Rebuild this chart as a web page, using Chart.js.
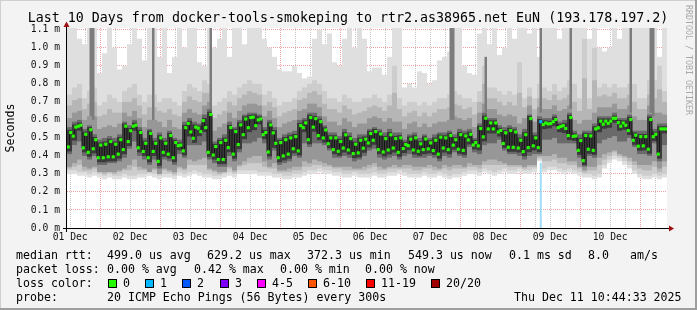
<!DOCTYPE html>
<html><head><meta charset="utf-8">
<script src="https://cdn.jsdelivr.net/npm/chart.js@4/dist/chart.umd.min.js"></script>
<style>html,body{margin:0;padding:0;background:#f3f3f3;}canvas{display:block}</style>
</head><body>
<canvas id="c" width="697" height="310"></canvas>
<script>
// ---------------- DATA ----------------
const titleText = "Last 10 Days from docker-tools-smokeping to rtr2.as38965.net EuN (193.178.197.2)";
const dayLabels = ["01 Dec","02 Dec","03 Dec","04 Dec","05 Dec","06 Dec","07 Dec","08 Dec","09 Dec","10 Dec"];
const yTickValues = [0,0.1,0.2,0.3,0.4,0.5,0.6,0.7,0.8,0.9,1.0,1.1];
const firstNoonHour = 1.2575;   // 01 Dec 12:00, hours after window start (01 Dec 10:44:33)
// median rtt in ms, one value per hour (240 h)
const median = [
0.45,0.53,0.51,0.56,0.565,0.57,0.445,0.52,0.42,0.545,0.44,0.49,0.39,0.46,0.39,0.465,0.395,0.48,0.395,0.465,
0.41,0.49,0.435,0.565,0.48,0.54,0.565,0.57,0.445,0.53,0.425,0.47,0.39,0.525,0.425,0.47,0.37,0.50,0.42,0.47,
0.41,0.513,0.39,0.474,0.457,0.46,0.428,0.557,0.58,0.533,0.498,0.56,0.554,0.535,0.596,0.557,0.42,0.63,0.405,0.452,
0.38,0.474,0.38,0.487,0.446,0.557,0.41,0.535,0.463,0.572,0.518,0.605,0.557,0.613,0.615,0.568,0.60,0.605,0.518,0.53,
0.422,0.572,0.528,0.47,0.39,0.474,0.40,0.49,0.41,0.50,0.44,0.507,0.428,0.568,0.557,0.583,0.49,0.613,0.56,0.607,
0.513,0.59,0.50,0.544,0.468,0.50,0.435,0.50,0.426,0.48,0.444,0.517,0.433,0.496,0.413,0.465,0.417,0.487,0.443,0.493,
0.472,0.524,0.487,0.535,0.435,0.522,0.422,0.496,0.433,0.517,0.444,0.496,0.42,0.50,0.441,0.463,0.457,0.493,0.433,0.50,
0.426,0.467,0.435,0.494,0.439,0.472,0.43,0.487,0.41,0.504,0.444,0.50,0.435,0.513,0.46,0.49,0.437,0.518,0.431,0.511,
0.489,0.52,0.461,0.474,0.456,0.552,0.506,0.609,0.55,0.583,0.55,0.583,0.533,0.541,0.469,0.528,0.448,0.541,0.448,0.533,
0.444,0.487,0.424,0.518,0.446,0.607,0.456,0.50,0.446,0.59,0.574,0.583,0.578,0.58,0.59,0.602,0.557,0.563,0.568,0.552,
0.513,0.613,0.509,0.511,0.431,0.485,0.374,0.513,0.437,0.511,0.431,0.55,0.556,0.593,0.576,0.593,0.581,0.593,0.609,0.609,
0.585,0.565,0.583,0.57,0.541,0.602,0.487,0.515,0.454,0.507,0.456,0.507,0.437,0.602,0.507,0.52,0.41,0.55,0.55,0.55];
const lossHour = 189;          // hour with 1/20 packet loss
const lossMarkTop = 0.363;
// single-hour outlier pings reaching far up (hour index, low, high)
const spikeHours = [9, 10, 34, 57, 153, 154, 167, 189, 201, 225, 233, 234];
const spikeLow  = [0.62, 0.60, 0.60, 0.66, 0.60, 0.60, 0.64, 0.64, 0.66, 0.64, 0.64, 0.62];
const spikeHigh = [1.11, 1.11, 1.11, 1.11, 1.11, 1.11, 0.95, 1.11, 1.11, 1.11, 1.11, 1.11];
// smoke, one column per 2 h (120 columns); band 1 = outermost (lightest) ... band 6 = core
const smoke1Low = [
0.30,0.30,0.29,0.29,0.28,0.29,0.28,0.27,0.28,0.27,0.27,0.28,0.27,0.27,0.28,0.28,0.29,0.28,0.27,0.28,
0.28,0.27,0.29,0.28,0.29,0.30,0.29,0.28,0.28,0.27,0.27,0.28,0.29,0.28,0.30,0.30,0.30,0.30,0.29,0.29,
0.29,0.28,0.28,0.27,0.27,0.28,0.28,0.29,0.30,0.30,0.31,0.30,0.30,0.29,0.29,0.28,0.28,0.29,0.28,0.28,
0.28,0.29,0.28,0.28,0.29,0.29,0.30,0.29,0.28,0.28,0.28,0.29,0.28,0.28,0.29,0.28,0.27,0.28,0.28,0.29,
0.30,0.30,0.29,0.31,0.30,0.29,0.30,0.31,0.30,0.30,0.31,0.30,0.30,0.31,0.37,0.31,0.32,0.32,0.31,0.30,
0.31,0.30,0.29,0.28,0.28,0.27,0.28,0.33,0.36,0.38,0.37,0.35,0.33,0.30,0.28,0.27,0.27,0.28,0.27,0.28];
const smoke1High = [
1.11,1.11,1.05,1.02,1.11,1.11,0.86,0.97,1.11,1.0,0.88,0.9,1.02,1.11,1.05,0.93,1.11,1.11,0.95,1.11,
0.86,0.95,1.11,1.0,1.11,1.11,0.92,0.9,1.11,1.0,1.05,1.11,0.95,1.11,1.11,1.02,1.11,1.11,1.11,1.05,
1.0,0.95,0.88,0.87,0.87,0.9,0.86,0.83,0.84,1.05,1.1,1.02,1.08,0.92,0.9,1.05,1.11,1.0,1.11,1.05,
0.87,0.89,0.89,0.85,0.95,1.11,1.11,0.78,0.8,0.78,0.87,0.86,0.8,0.82,0.93,0.95,0.98,1.11,1.11,0.9,
0.86,0.85,1.08,1.11,1.02,1.11,0.96,1.0,1.11,1.05,1.11,1.11,1.08,1.11,0.95,1.11,1.11,1.11,1.05,1.11,
1.11,1.11,1.11,1.11,1.05,1.11,1.0,0.98,1.0,1.11,1.05,1.11,1.11,1.11,1.11,1.11,1.11,1.11,0.95,1.11];
const smoke2Low = [
0.32,0.32,0.31,0.31,0.30,0.31,0.30,0.29,0.30,0.29,0.29,0.30,0.29,0.29,0.30,0.30,0.31,0.30,0.29,0.30,
0.30,0.29,0.31,0.30,0.31,0.32,0.31,0.30,0.30,0.29,0.29,0.30,0.31,0.30,0.32,0.32,0.32,0.32,0.31,0.31,
0.31,0.30,0.30,0.29,0.29,0.30,0.30,0.31,0.32,0.32,0.33,0.32,0.32,0.31,0.31,0.30,0.30,0.31,0.30,0.30,
0.30,0.31,0.30,0.30,0.31,0.31,0.32,0.31,0.30,0.30,0.30,0.31,0.30,0.30,0.31,0.30,0.29,0.30,0.30,0.31,
0.32,0.32,0.31,0.33,0.32,0.31,0.32,0.33,0.32,0.32,0.33,0.32,0.32,0.33,0.38,0.33,0.34,0.34,0.33,0.32,
0.33,0.32,0.31,0.30,0.30,0.29,0.30,0.35,0.38,0.40,0.39,0.37,0.35,0.32,0.30,0.29,0.29,0.30,0.29,0.30];
const smoke2High = [
0.74,0.78,0.80,0.72,0.76,0.78,0.68,0.70,0.74,0.72,0.70,0.76,0.78,0.80,0.74,0.70,0.74,0.74,0.70,0.72,
0.72,0.70,0.68,0.76,0.80,0.78,0.76,0.82,0.80,0.68,0.70,0.72,0.76,0.74,0.78,0.80,0.82,0.80,0.80,0.74,
0.76,0.72,0.68,0.70,0.70,0.72,0.76,0.78,0.80,0.82,0.80,0.76,0.72,0.72,0.70,0.74,0.72,0.70,0.70,0.72,
0.72,0.74,0.72,0.70,0.74,0.90,0.72,0.68,0.70,0.70,0.68,0.70,0.68,0.70,0.72,0.72,0.74,0.76,0.74,0.72,
0.72,0.70,0.76,0.90,0.78,0.78,0.76,0.74,0.76,0.74,0.92,0.72,0.78,0.72,0.80,0.78,0.76,0.80,0.76,0.78,
0.82,0.80,0.72,1.05,0.72,1.0,0.78,0.80,0.78,0.80,0.78,0.78,0.80,0.80,0.72,0.72,0.82,0.82,0.90,0.76];
const smoke3Low = [
0.33,0.34,0.35,0.32,0.32,0.33,0.31,0.30,0.31,0.30,0.31,0.32,0.32,0.34,0.32,0.32,0.31,0.32,0.30,0.32,
0.31,0.30,0.33,0.32,0.35,0.35,0.35,0.35,0.32,0.31,0.30,0.31,0.33,0.31,0.34,0.35,0.36,0.36,0.36,0.34,
0.33,0.33,0.31,0.31,0.31,0.32,0.32,0.34,0.34,0.35,0.35,0.34,0.34,0.33,0.33,0.32,0.32,0.32,0.32,0.32,
0.33,0.34,0.32,0.32,0.33,0.33,0.33,0.33,0.33,0.32,0.32,0.33,0.33,0.32,0.32,0.33,0.32,0.33,0.33,0.33,
0.34,0.34,0.33,0.35,0.35,0.35,0.35,0.35,0.34,0.34,0.34,0.33,0.34,0.34,0.39,0.37,0.37,0.38,0.36,0.36,
0.35,0.35,0.33,0.31,0.32,0.32,0.35,0.38,0.40,0.42,0.40,0.39,0.37,0.35,0.33,0.32,0.32,0.34,0.31,0.34];
const smoke3High = [
0.68,0.71,0.72,0.66,0.69,0.70,0.62,0.63,0.66,0.64,0.64,0.70,0.70,0.72,0.68,0.63,0.67,0.67,0.65,0.64,
0.66,0.63,0.62,0.70,0.73,0.71,0.70,0.75,0.75,0.61,0.63,0.65,0.70,0.68,0.72,0.74,0.76,0.75,0.74,0.68,
0.70,0.67,0.62,0.64,0.65,0.66,0.71,0.72,0.75,0.76,0.74,0.69,0.66,0.66,0.64,0.68,0.66,0.63,0.64,0.65,
0.67,0.68,0.67,0.65,0.68,0.75,0.66,0.62,0.64,0.65,0.62,0.64,0.62,0.64,0.66,0.66,0.67,0.69,0.68,0.66,
0.67,0.63,0.70,0.80,0.72,0.72,0.70,0.68,0.70,0.68,0.75,0.67,0.73,0.66,0.72,0.72,0.71,0.74,0.71,0.72,
0.74,0.70,0.65,0.83,0.66,0.82,0.73,0.74,0.73,0.75,0.72,0.72,0.74,0.70,0.66,0.66,0.74,0.72,0.77,0.70];
const smoke4Low = [
0.34,0.36,0.38,0.34,0.33,0.34,0.31,0.31,0.31,0.31,0.32,0.33,0.35,0.38,0.34,0.33,0.31,0.33,0.30,0.33,
0.32,0.31,0.34,0.33,0.38,0.37,0.38,0.39,0.33,0.32,0.31,0.31,0.34,0.32,0.35,0.37,0.39,0.40,0.40,0.37,
0.34,0.36,0.32,0.32,0.33,0.34,0.34,0.37,0.36,0.38,0.37,0.36,0.35,0.34,0.34,0.34,0.34,0.33,0.33,0.34,
0.35,0.36,0.34,0.33,0.34,0.35,0.34,0.35,0.35,0.34,0.34,0.34,0.35,0.34,0.33,0.35,0.34,0.35,0.35,0.34,
0.36,0.35,0.35,0.37,0.38,0.38,0.37,0.36,0.35,0.35,0.35,0.34,0.35,0.35,0.40,0.40,0.40,0.41,0.39,0.39,
0.37,0.37,0.34,0.32,0.34,0.34,0.39,0.41,0.42,0.43,0.41,0.40,0.39,0.37,0.35,0.35,0.35,0.37,0.33,0.37];
const smoke4High = [
0.61,0.64,0.65,0.60,0.62,0.62,0.55,0.56,0.57,0.56,0.58,0.64,0.62,0.65,0.61,0.56,0.60,0.60,0.59,0.56,
0.60,0.56,0.55,0.64,0.66,0.64,0.63,0.68,0.70,0.54,0.56,0.58,0.64,0.61,0.65,0.68,0.69,0.69,0.68,0.62,
0.65,0.61,0.56,0.58,0.59,0.60,0.65,0.66,0.69,0.69,0.67,0.62,0.59,0.59,0.57,0.61,0.59,0.56,0.58,0.58,
0.61,0.62,0.61,0.59,0.61,0.59,0.59,0.55,0.58,0.59,0.56,0.58,0.56,0.58,0.59,0.59,0.60,0.62,0.61,0.60,
0.61,0.56,0.64,0.69,0.66,0.66,0.63,0.62,0.63,0.62,0.58,0.61,0.68,0.59,0.67,0.66,0.66,0.68,0.65,0.66,
0.68,0.60,0.58,0.60,0.60,0.64,0.67,0.67,0.67,0.69,0.66,0.66,0.68,0.62,0.60,0.60,0.68,0.64,0.64,0.63];
const smoke5Low = [
0.41,0.46,0.48,0.40,0.38,0.40,0.35,0.35,0.36,0.36,0.37,0.39,0.44,0.48,0.40,0.38,0.35,0.38,0.33,0.38,
0.37,0.35,0.41,0.39,0.46,0.46,0.46,0.48,0.38,0.36,0.34,0.34,0.40,0.37,0.42,0.47,0.47,0.48,0.50,0.47,
0.38,0.43,0.35,0.36,0.37,0.40,0.39,0.47,0.45,0.47,0.47,0.46,0.43,0.39,0.39,0.40,0.39,0.37,0.38,0.40,
0.43,0.44,0.39,0.38,0.39,0.40,0.38,0.40,0.41,0.39,0.39,0.39,0.40,0.39,0.37,0.40,0.39,0.42,0.40,0.39,
0.45,0.42,0.41,0.46,0.47,0.47,0.49,0.43,0.41,0.41,0.40,0.38,0.40,0.41,0.41,0.49,0.49,0.50,0.47,0.47,
0.47,0.47,0.39,0.34,0.40,0.39,0.47,0.49,0.50,0.51,0.48,0.48,0.50,0.45,0.41,0.41,0.40,0.47,0.37,0.46];
const smoke5High = [
0.56,0.59,0.60,0.55,0.57,0.52,0.49,0.50,0.51,0.50,0.52,0.59,0.57,0.60,0.56,0.50,0.55,0.50,0.53,0.50,
0.54,0.50,0.49,0.59,0.61,0.59,0.58,0.63,0.66,0.48,0.50,0.52,0.59,0.56,0.60,0.63,0.64,0.64,0.63,0.56,
0.60,0.56,0.50,0.52,0.53,0.54,0.60,0.61,0.64,0.64,0.62,0.57,0.53,0.53,0.51,0.55,0.53,0.50,0.52,0.52,
0.55,0.56,0.55,0.53,0.55,0.53,0.53,0.49,0.52,0.53,0.50,0.52,0.50,0.52,0.53,0.53,0.54,0.52,0.55,0.54,
0.55,0.50,0.58,0.64,0.61,0.61,0.57,0.56,0.57,0.56,0.52,0.55,0.63,0.53,0.62,0.61,0.61,0.63,0.59,0.60,
0.64,0.54,0.52,0.54,0.54,0.58,0.62,0.62,0.62,0.64,0.61,0.61,0.63,0.54,0.54,0.54,0.63,0.55,0.58,0.58];
const smoke6Low = [
0.425,0.485,0.54,0.42,0.395,0.415,0.365,0.365,0.37,0.37,0.385,0.41,0.455,0.54,0.42,0.40,0.365,0.40,0.345,0.395,
0.385,0.365,0.432,0.403,0.508,0.473,0.51,0.532,0.395,0.38,0.355,0.355,0.421,0.385,0.438,0.493,0.532,0.543,0.575,0.493,
0.397,0.445,0.365,0.375,0.385,0.415,0.403,0.532,0.465,0.535,0.488,0.475,0.443,0.41,0.401,0.419,0.408,0.388,0.392,0.418,
0.447,0.462,0.41,0.397,0.408,0.419,0.395,0.416,0.432,0.408,0.401,0.41,0.414,0.405,0.385,0.419,0.41,0.435,0.412,0.406,
0.464,0.436,0.431,0.481,0.525,0.525,0.508,0.444,0.423,0.423,0.419,0.399,0.421,0.431,0.421,0.549,0.553,0.565,0.532,0.527,
0.488,0.484,0.406,0.349,0.412,0.406,0.531,0.551,0.556,0.584,0.54,0.545,0.516,0.462,0.429,0.431,0.412,0.482,0.385,0.525];
const smoke6High = [
0.545,0.575,0.585,0.535,0.56,0.505,0.475,0.48,0.495,0.48,0.505,0.58,0.555,0.585,0.545,0.485,0.54,0.485,0.515,0.485,
0.528,0.489,0.475,0.572,0.595,0.575,0.569,0.611,0.645,0.467,0.489,0.502,0.572,0.55,0.587,0.62,0.628,0.63,0.62,0.545,
0.587,0.543,0.489,0.505,0.515,0.522,0.583,0.598,0.628,0.622,0.605,0.559,0.515,0.515,0.495,0.532,0.511,0.48,0.502,0.508,
0.539,0.55,0.537,0.511,0.532,0.511,0.515,0.478,0.508,0.515,0.482,0.509,0.487,0.502,0.519,0.515,0.528,0.505,0.533,0.526,
0.535,0.489,0.567,0.624,0.598,0.598,0.556,0.543,0.556,0.548,0.502,0.533,0.622,0.515,0.605,0.598,0.595,0.617,0.578,0.583,
0.628,0.526,0.50,0.528,0.526,0.565,0.608,0.608,0.608,0.624,0.60,0.598,0.617,0.53,0.522,0.522,0.617,0.535,0.565,0.565];
// legend text
const legendRtt = [["median rtt:",16],["499.0 us avg",107],["629.2 us max",207],["372.3 us min",307],["549.3 us now",408],["0.1 ms sd",509],["8.0",588],["am/s",630]];
const legendLoss = [["packet loss:",16],["0.00 % avg",107],["0.42 % max",194],["0.00 % min",280],["0.00 % now",365]];
const lossColorLabels = ["0","1","2","3","4-5","6-10","11-19","20/20"];
const lossColors = ["#26ff00","#00b8ff","#0059ff","#7e00ff","#ff00ff","#ff5500","#ff0000","#a10000"];
const lossBoxX = [108,145,182,220,257,308,366,431];
const legendProbe = [["probe:",16],["20 ICMP Echo Pings (56 Bytes) every 300s",107],["Thu Dec 11 10:44:33 2025",514]];
const watermark = "RRDTOOL / TOBI OETIKER";

// ---------------- CHART ----------------
const MONO = '"DejaVu Sans Mono", monospace';
const xTicks = [];
for (let h = firstNoonHour; h < 240; h += 6) xTicks.push(h);
const isMidnight = v => Math.abs(((v - firstNoonHour) / 6) % 4 - 2) < 0.01;

function bandData(lo, hi) { return lo.map((l, j) => ({x: 2 * j + 1, y: [l, hi[j]]})); }
const smokeSets = [
  [smoke1Low, smoke1High, '#dfdfdf', 20],
  [smoke2Low, smoke2High, '#cdcdcd', 19],
  [smoke3Low, smoke3High, '#b6b6b6', 18],
  [smoke4Low, smoke4High, '#979797', 17],
  [smoke5Low, smoke5High, '#6a6a6a', 16],
  [smoke6Low, smoke6High, '#3a3a3a', 15]
].map(([lo, hi, col, ord]) => ({
  type: 'bar', data: bandData(lo, hi), backgroundColor: col, borderWidth: 0,
  grouped: false, barThickness: 5, order: ord, inflateAmount: 0
}));
const spikeSet = {
  type: 'bar', data: spikeHours.map((h, k) => ({x: h + 0.5, y: [spikeLow[k], spikeHigh[k]]})),
  backgroundColor: '#7c7c7c', borderWidth: 0, grouped: false, barThickness: 2.5, order: 14, inflateAmount: 0
};

const medianPts = median.map((v, i) => ({x: i + 0.5, y: v}));
const pointColors = median.map((v, i) => i === lossHour ? lossColors[1] : lossColors[0]);

const framePlugin = {
  id: 'frame',
  beforeDraw(chart) {
    const c = chart.ctx, a = chart.chartArea;
    c.save();
    c.fillStyle = '#f3f3f3'; c.fillRect(0, 0, 697, 310);
    c.fillStyle = '#ffffff'; c.fillRect(a.left, a.top, a.right - a.left, a.bottom - a.top);
    c.restore();
  },
  afterDraw(chart) {
    const c = chart.ctx;
    c.save();
    c.fillStyle = '#cfcfcf'; c.fillRect(0, 0, 697, 1); c.fillRect(0, 0, 1, 310);
    c.fillStyle = '#9e9e9e'; c.fillRect(695, 0, 2, 310); c.fillRect(0, 308, 697, 2);
    c.strokeStyle = '#000'; c.lineWidth = 1;
    c.beginPath(); c.moveTo(63, 228.5); c.lineTo(670, 228.5); c.stroke();
    c.beginPath(); c.moveTo(66.5, 232); c.lineTo(66.5, 24); c.stroke();
    c.fillStyle = '#a01010';
    c.beginPath(); c.moveTo(669, 225.5); c.lineTo(674, 228.5); c.lineTo(669, 231.5); c.closePath(); c.fill();
    c.beginPath(); c.moveTo(63.5, 27); c.lineTo(66.5, 21.5); c.lineTo(69.5, 27); c.closePath(); c.fill();
    c.fillStyle = '#000'; c.textBaseline = 'middle';
    c.font = '13.3px ' + MONO; c.textAlign = 'center';
    c.fillText(titleText, 348, 19);
    c.save(); c.translate(10.5, 128); c.rotate(-Math.PI / 2);
    c.font = '11.6px ' + MONO; c.fillText('Seconds', 0, 0); c.restore();
    c.textAlign = 'left'; c.font = '11.6px ' + MONO;
    legendRtt.forEach(([t, x]) => c.fillText(t, x, 255.5));
    legendLoss.forEach(([t, x]) => c.fillText(t, x, 269.5));
    c.fillText('loss color:', 16, 283.5);
    lossColorLabels.forEach((t, k) => {
      const bx = lossBoxX[k];
      c.fillStyle = '#000'; c.fillRect(bx, 279, 9, 9);
      c.fillStyle = lossColors[k]; c.fillRect(bx + 1, 280, 7, 7);
      c.fillStyle = '#000'; c.fillText(t, bx + 15, 283.5);
    });
    legendProbe.forEach(([t, x]) => c.fillText(t, x, 297.5));
    c.save(); c.translate(688, 5); c.rotate(Math.PI / 2);
    c.fillStyle = '#a9a9a9'; c.font = '8.3px ' + MONO; c.textBaseline = 'middle';
    c.fillText(watermark, 0, 0); c.restore();
    c.restore();
  }
};

new Chart(document.getElementById('c'), {
  type: 'bar',
  data: {
    datasets: [
      ...smokeSets,
      spikeSet,
      { type: 'line', data: [{x: lossHour + 0.5, y: 0}, {x: lossHour + 0.5, y: lossMarkTop}],
        borderColor: '#9fdcf8', borderWidth: 2, pointRadius: 0, order: 5 },
      { type: 'line', data: medianPts, stepped: 'middle', borderColor: '#151515', borderWidth: 1,
        pointStyle: 'rect', pointRadius: 2.2, pointBorderWidth: 0,
        pointBackgroundColor: pointColors, order: 1 }
    ]
  },
  options: {
    responsive: false, animation: false, events: [],
    layout: { padding: { top: 28, left: 0, right: 30, bottom: 62 } },
    plugins: { legend: { display: false }, tooltip: { enabled: false }, title: { display: false } },
    scales: {
      x: {
        type: 'linear', min: 0, max: 240, offset: false, z: 1,
        grid: { offset: false, drawTicks: false, lineWidth: 1,
          color: ctx => isMidnight(ctx.tick ? ctx.tick.value : 0) ? 'rgba(225,70,70,0.5)' : 'rgba(130,130,130,0.45)' },
        border: { display: false, dash: [1, 1] },
        afterBuildTicks: s => { s.ticks = xTicks.map(v => ({value: v})); },
        afterFit: s => { s.height = 20; s.paddingLeft = 0; s.paddingRight = 0; },
        ticks: {
          autoSkip: false, maxRotation: 0, padding: 4, color: '#111',
          font: { family: MONO, size: 9.7 },
          callback: (v, i) => (i % 4 === 0 ? dayLabels[i / 4] || '' : '')
        }
      },
      y: {
        type: 'linear', min: 0, max: 1.11, z: 1,
        grid: { drawTicks: false, lineWidth: 1, color: 'rgba(225,70,70,0.5)' },
        border: { display: false, dash: [1, 1] },
        afterBuildTicks: s => { s.ticks = yTickValues.map(v => ({value: v})); },
        afterFit: s => { s.width = 67; },
        ticks: { padding: 7, color: '#111', font: { family: MONO, size: 9.7 },
          callback: v => v.toFixed(1) + ' m' }
      }
    }
  },
  plugins: [framePlugin]
});
</script>
</body></html>
